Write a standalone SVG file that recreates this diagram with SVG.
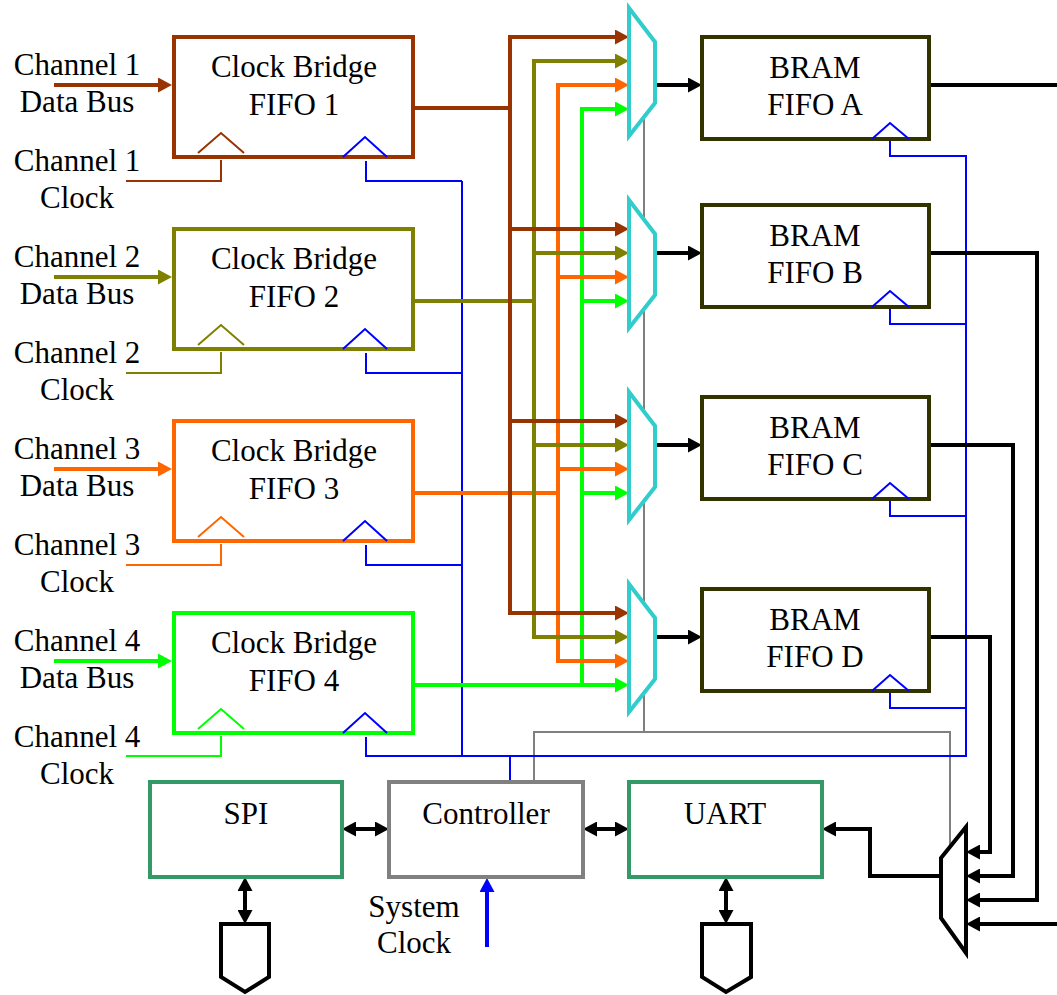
<svg xmlns="http://www.w3.org/2000/svg" width="1057" height="995" viewBox="0 0 1057 995">
<style>
text{font-family:"Liberation Serif","Times New Roman",serif;font-size:31px;fill:#000;text-anchor:middle}
.box{fill:#fff;stroke-width:4}
.bus{fill:none;stroke-width:4}
.thin{fill:none;stroke-width:2}
.mux{fill:#fff;stroke:#33cccc;stroke-width:4}
.br{stroke:#993300}.ol{stroke:#808000}.or{stroke:#ff6600}.gr{stroke:#00ff00}
.bl{stroke:#0000ff}.gy{stroke:#808080}.bk{stroke:#000}
.bram{fill:#fff;stroke:#333300;stroke-width:4}
.io{fill:#fff;stroke:#339966;stroke-width:4}
</style>
<defs>
<marker id="a-br" viewBox="0 0 14 15" refX="4" refY="7.5" markerWidth="14" markerHeight="15" markerUnits="userSpaceOnUse" orient="auto-start-reverse"><path d="M0,0L14,7.5L0,15z" fill="#993300"/></marker>
<marker id="a-ol" viewBox="0 0 14 15" refX="4" refY="7.5" markerWidth="14" markerHeight="15" markerUnits="userSpaceOnUse" orient="auto-start-reverse"><path d="M0,0L14,7.5L0,15z" fill="#808000"/></marker>
<marker id="a-or" viewBox="0 0 14 15" refX="4" refY="7.5" markerWidth="14" markerHeight="15" markerUnits="userSpaceOnUse" orient="auto-start-reverse"><path d="M0,0L14,7.5L0,15z" fill="#ff6600"/></marker>
<marker id="a-gr" viewBox="0 0 14 15" refX="4" refY="7.5" markerWidth="14" markerHeight="15" markerUnits="userSpaceOnUse" orient="auto-start-reverse"><path d="M0,0L14,7.5L0,15z" fill="#00ff00"/></marker>
<marker id="a-bk" viewBox="0 0 14 15" refX="4" refY="7.5" markerWidth="14" markerHeight="15" markerUnits="userSpaceOnUse" orient="auto-start-reverse"><path d="M0,0L14,7.5L0,15z" fill="#000"/></marker>
<marker id="a-bl" viewBox="0 0 14 15" refX="4" refY="7.5" markerWidth="14" markerHeight="15" markerUnits="userSpaceOnUse" orient="auto-start-reverse"><path d="M0,0L14,7.5L0,15z" fill="#0000ff"/></marker>
</defs>

<g id="connectors">
  <!-- gray control lines -->
  <path class="thin gy" d="M644,100V732"/>
  <path class="thin gy" d="M534,782V732H950V848"/>
  <!-- blue clock distribution -->
  <path class="thin bl" d="M366,161V181H462"/>
  <path class="thin bl" d="M366,353V373H462"/>
  <path class="thin bl" d="M366,545V565H462"/>
  <path class="thin bl" d="M366,737V756H966V156H890V141"/>
  <path class="thin bl" d="M462,181V756"/>
  <path class="thin bl" d="M510,756V782"/>
  <path class="thin bl" d="M890,309V324H966"/>
  <path class="thin bl" d="M890,501V516H966"/>
  <path class="thin bl" d="M890,693V708H966"/>
  <!-- channel clocks -->
  <path class="thin br" d="M221,160V181H126"/>
  <path class="thin ol" d="M221,352V373H126"/>
  <path class="thin or" d="M221,544V565H126"/>
  <path class="thin gr" d="M221,736V756H126"/>
  <!-- data bus inputs -->
  <path class="bus br" d="M54,85H162" marker-end="url(#a-br)"/>
  <path class="bus ol" d="M54,277H162" marker-end="url(#a-ol)"/>
  <path class="bus or" d="M54,469H162" marker-end="url(#a-or)"/>
  <path class="bus gr" d="M54,661H162" marker-end="url(#a-gr)"/>
  <!-- green bus (FIFO 4) -->
  <path class="bus gr" d="M582,109V685" stroke-linecap="square"/>
  <path class="bus gr" d="M414,685H619" marker-end="url(#a-gr)"/>
  <path class="bus gr" d="M582,109H619" marker-end="url(#a-gr)"/>
  <path class="bus gr" d="M582,301H619" marker-end="url(#a-gr)"/>
  <path class="bus gr" d="M582,493H619" marker-end="url(#a-gr)"/>
  <!-- orange bus (FIFO 3) -->
  <path class="bus or" d="M558,85V661" stroke-linecap="square"/>
  <path class="bus or" d="M414,493H558"/>
  <path class="bus or" d="M558,85H619" marker-end="url(#a-or)"/>
  <path class="bus or" d="M558,277H619" marker-end="url(#a-or)"/>
  <path class="bus or" d="M558,469H619" marker-end="url(#a-or)"/>
  <path class="bus or" d="M558,661H619" marker-end="url(#a-or)"/>
  <!-- olive bus (FIFO 2) -->
  <path class="bus ol" d="M534,61V637" stroke-linecap="square"/>
  <path class="bus ol" d="M414,301H534"/>
  <path class="bus ol" d="M534,61H619" marker-end="url(#a-ol)"/>
  <path class="bus ol" d="M534,253H619" marker-end="url(#a-ol)"/>
  <path class="bus ol" d="M534,445H619" marker-end="url(#a-ol)"/>
  <path class="bus ol" d="M534,637H619" marker-end="url(#a-ol)"/>
  <!-- brown bus (FIFO 1) -->
  <path class="bus br" d="M510,37V613" stroke-linecap="square"/>
  <path class="bus br" d="M414,108H510"/>
  <path class="bus br" d="M510,37H619" marker-end="url(#a-br)"/>
  <path class="bus br" d="M510,229H619" marker-end="url(#a-br)"/>
  <path class="bus br" d="M510,421H619" marker-end="url(#a-br)"/>
  <path class="bus br" d="M510,613H619" marker-end="url(#a-br)"/>
  <!-- mux to BRAM -->
  <path class="bus bk" d="M655,85H692" marker-end="url(#a-bk)"/>
  <path class="bus bk" d="M655,253H692" marker-end="url(#a-bk)"/>
  <path class="bus bk" d="M655,445H692" marker-end="url(#a-bk)"/>
  <path class="bus bk" d="M655,637H692" marker-end="url(#a-bk)"/>
  <!-- BRAM outputs to output mux -->
  <path class="bus bk" d="M929,85H1057"/>
  <path class="bus bk" d="M929,253H1037V900H976" marker-end="url(#a-bk)"/>
  <path class="bus bk" d="M929,445H1013V876H976" marker-end="url(#a-bk)"/>
  <path class="bus bk" d="M929,637H990V852H976" marker-end="url(#a-bk)"/>
  <path class="bus bk" d="M1057,924H976" marker-end="url(#a-bk)"/>
  <path class="bus bk" d="M941,876H870V829H832" marker-end="url(#a-bk)"/>
  <!-- controller links -->
  <path class="bus bk" d="M352,829H379" marker-start="url(#a-bk)" marker-end="url(#a-bk)"/>
  <path class="bus bk" d="M593,829H619" marker-start="url(#a-bk)" marker-end="url(#a-bk)"/>
  <path class="bus bk" d="M245,887V914" marker-start="url(#a-bk)" marker-end="url(#a-bk)"/>
  <path class="bus bk" d="M726,887V914" marker-start="url(#a-bk)" marker-end="url(#a-bk)"/>
  <path class="bus bl" d="M487,947V888" marker-end="url(#a-bl)"/>
</g>

<g id="fifo1">
  <rect class="box br" x="174" y="37" width="239" height="120"/>
  <text x="294" y="77">Clock Bridge</text><text x="294" y="115">FIFO 1</text>
  <polyline class="thin br" points="198,153 221,133 244,153"/>
  <polyline class="thin bl" points="343,157 365,137 387,157"/>
  <text x="77" y="75">Channel 1</text><text x="77" y="112">Data Bus</text>
  <text x="77" y="171">Channel 1</text><text x="77" y="208">Clock</text>
</g>
<g id="fifo2">
  <rect class="box ol" x="174" y="229" width="239" height="120"/>
  <text x="294" y="269">Clock Bridge</text><text x="294" y="307">FIFO 2</text>
  <polyline class="thin ol" points="198,345 221,325 244,345"/>
  <polyline class="thin bl" points="343,349 365,329 387,349"/>
  <text x="77" y="267">Channel 2</text><text x="77" y="304">Data Bus</text>
  <text x="77" y="363">Channel 2</text><text x="77" y="400">Clock</text>
</g>
<g id="fifo3">
  <rect class="box or" x="174" y="421" width="239" height="120"/>
  <text x="294" y="461">Clock Bridge</text><text x="294" y="499">FIFO 3</text>
  <polyline class="thin or" points="198,537 221,517 244,537"/>
  <polyline class="thin bl" points="343,541 365,521 387,541"/>
  <text x="77" y="459">Channel 3</text><text x="77" y="496">Data Bus</text>
  <text x="77" y="555">Channel 3</text><text x="77" y="592">Clock</text>
</g>
<g id="fifo4">
  <rect class="box gr" x="174" y="613" width="239" height="120"/>
  <text x="294" y="653">Clock Bridge</text><text x="294" y="691">FIFO 4</text>
  <polyline class="thin gr" points="198,729 221,709 244,729"/>
  <polyline class="thin bl" points="343,733 365,713 387,733"/>
  <text x="77" y="651">Channel 4</text><text x="77" y="688">Data Bus</text>
  <text x="77" y="747">Channel 4</text><text x="77" y="784">Clock</text>
</g>

<g id="muxA"><polygon class="mux" points="629,8 655,42 655,103 629,136"/></g>
<g id="muxB"><polygon class="mux" points="629,200 655,234 655,295 629,328"/></g>
<g id="muxC"><polygon class="mux" points="629,392 655,426 655,487 629,520"/></g>
<g id="muxD"><polygon class="mux" points="629,584 655,618 655,679 629,712"/></g>

<g id="bramA">
  <rect class="bram" x="702" y="37" width="227" height="102"/>
  <text x="815" y="78">BRAM</text><text x="815" y="115">FIFO A</text>
  <polyline class="thin bl" points="872,139 890,123 909,139"/>
</g>
<g id="bramB">
  <rect class="bram" x="702" y="205" width="227" height="102"/>
  <text x="815" y="246">BRAM</text><text x="815" y="283">FIFO B</text>
  <polyline class="thin bl" points="872,307 890,291 909,307"/>
</g>
<g id="bramC">
  <rect class="bram" x="702" y="397" width="227" height="102"/>
  <text x="815" y="438">BRAM</text><text x="815" y="475">FIFO C</text>
  <polyline class="thin bl" points="872,499 890,483 909,499"/>
</g>
<g id="bramD">
  <rect class="bram" x="702" y="589" width="227" height="102"/>
  <text x="815" y="630">BRAM</text><text x="815" y="667">FIFO D</text>
  <polyline class="thin bl" points="872,691 890,675 909,691"/>
</g>

<g id="outmux"><polygon fill="#fff" stroke="#000" stroke-width="4" points="941,858 966,827 966,953 941,918"/></g>

<g id="spi">
  <rect class="io" x="150" y="782" width="192" height="95"/>
  <text x="246" y="824">SPI</text>
</g>
<g id="controller">
  <rect class="box gy" x="389" y="782" width="194" height="95"/>
  <text x="486" y="824">Controller</text>
</g>
<g id="uart">
  <rect class="io" x="629" y="782" width="193" height="95"/>
  <text x="725" y="824">UART</text>
</g>
<g id="spi-port"><polygon fill="#fff" stroke="#000" stroke-width="4" points="221,924 269,924 269,977 245,992 221,977"/></g>
<g id="uart-port"><polygon fill="#fff" stroke="#000" stroke-width="4" points="702,924 751,924 751,977 726,992 702,977"/></g>
<g id="sysclk">
  <text x="414" y="917">System</text><text x="414" y="953">Clock</text>
</g>
</svg>
